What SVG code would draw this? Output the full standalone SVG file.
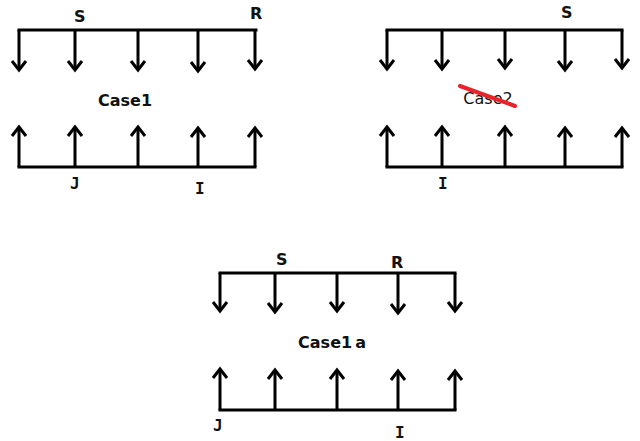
<svg xmlns="http://www.w3.org/2000/svg" width="640" height="441" viewBox="0 0 640 441">
<defs>
<style>
.bar{stroke:#000;stroke-width:3;fill:none;stroke-linecap:square}
.arr{stroke:#000;stroke-width:3;fill:none;marker-end:url(#head)}
.lbl{font-family:"DejaVu Sans",Verdana,sans-serif;font-weight:bold;font-size:16px;fill:#111}
.lbm{font-family:"DejaVu Sans Mono",monospace;font-weight:bold;font-size:16px;fill:#111}
.case{font-family:"DejaVu Sans",Verdana,sans-serif;font-weight:bold;font-size:16px;fill:#111;text-anchor:middle}
</style>
<marker id="head" markerUnits="userSpaceOnUse" markerWidth="20" markerHeight="20" viewBox="-12 -10 14 20" refX="0" refY="0" orient="auto">
<path d="M-9,-7 L0,0 L-9,7" fill="none" stroke="#000" stroke-width="3"/>
</marker>
</defs>
<rect width="640" height="441" fill="#fff"/>

<g id="case1">
<path class="bar" d="M19,30 H256"/>
<path class="bar" d="M19,167 H255"/>
<text class="lbl" x="74" y="22">S</text>
<text class="lbl" x="250" y="19">R</text>
<text class="case" x="125" y="106">Case1</text>
<text class="lbm" x="70" y="189">J</text>
<text class="lbm" x="195" y="194">I</text>
</g>

<g id="case2">
<path class="bar" d="M387,30 H622"/>
<path class="bar" d="M387,167 H622"/>
<text class="lbl" x="561" y="18">S</text>
<text x="488" y="104" font-family="'DejaVu Sans',Verdana,sans-serif" font-size="16" fill="#111" text-anchor="middle">Case2</text>
<path d="M460,86 L515,106" stroke="#e8242a" stroke-width="4" stroke-linecap="round"/>
<text class="lbm" x="438" y="189">I</text>
</g>

<g id="case1a">
<path class="bar" d="M220,273 H455"/>
<path class="bar" d="M220,410 H455"/>
<text class="lbl" x="276" y="265">S</text>
<text class="lbl" x="391" y="268">R</text>
<text class="case" x="332" y="348">Case1<tspan dx="3">a</tspan></text>
<text class="lbm" x="213" y="431">J</text>
<text class="lbm" x="395" y="438">I</text>
</g>

<g id="connectors">
<path class="arr" d="M19,30 V70"/>
<path class="arr" d="M75,30 V70"/>
<path class="arr" d="M138,30 V70"/>
<path class="arr" d="M198,30 V71"/>
<path class="arr" d="M255,30 V69"/>
<path class="arr" d="M19,167 V127"/>
<path class="arr" d="M75,167 V127"/>
<path class="arr" d="M138,167 V127"/>
<path class="arr" d="M198,167 V128"/>
<path class="arr" d="M255,167 V128"/>

<path class="arr" d="M387,30 V69"/>
<path class="arr" d="M442,30 V69"/>
<path class="arr" d="M505,30 V68"/>
<path class="arr" d="M565,30 V70"/>
<path class="arr" d="M622,30 V68"/>
<path class="arr" d="M387,167 V127"/>
<path class="arr" d="M442,167 V127"/>
<path class="arr" d="M505,167 V127"/>
<path class="arr" d="M565,167 V128"/>
<path class="arr" d="M622,167 V128"/>

<path class="arr" d="M220,273 V311"/>
<path class="arr" d="M275,273 V312"/>
<path class="arr" d="M337,273 V311"/>
<path class="arr" d="M398,273 V313"/>
<path class="arr" d="M455,273 V311"/>
<path class="arr" d="M220,410 V369"/>
<path class="arr" d="M275,410 V370"/>
<path class="arr" d="M337,410 V370"/>
<path class="arr" d="M398,410 V371"/>
<path class="arr" d="M455,410 V371"/>
</g>
</svg>
